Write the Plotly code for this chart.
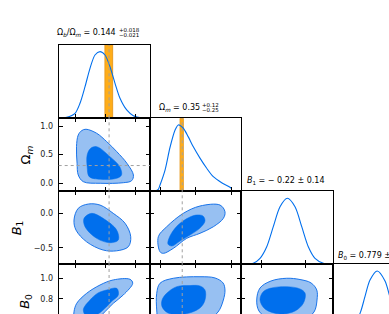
import plotly.graph_objects as go

W, H = 389, 314
PAGE_OFFSET = 0  # body margin is removed by the post script below

# ---------------- data ----------------
param_names = ["Ω<sub><i>b</i></sub>/Ω<sub><i>m</i></sub>", "Ω<sub><i>m</i></sub>",
               "<i>B</i><sub>1</sub>", "<i>B</i><sub>0</sub>"]
full_ranges = [[0.071, 0.225], [-0.14, 1.135], [-0.74, 0.32], [0.43, 1.135]]
tick_vals = [[0.10, 0.15, 0.20], [0.0, 0.5, 1.0], [-0.5, 0.0], [0.6, 0.8, 1.0]]
tick_text = [["0.10", "0.15", "0.20"], ["0.0", "0.5", "1.0"], ["−0.5", "0.0"], ["0.6", "0.8", "1.0"]]
truth_values = [0.156, 0.31, None, None]
prior_bands = [[0.149, 0.162], [0.28, 0.325], None, None]

title_main = ["Ω<sub><i>b</i></sub>/Ω<sub><i>m</i></sub> = 0.144", "Ω<sub><i>m</i></sub> = 0.35",
              "<i>B</i><sub>1</sub> = − 0.22 ± 0.14", "<i>B</i><sub>0</sub> = 0.779 ± 0.095"]
title_upper = ["+0.018", "+0.12", None, None]
title_lower = ["−0.021", "−0.25", None, None]

# 1D marginals (normalised to peak = 1)
marg_obm_x = [0.071, 0.0845, 0.0985, 0.1069, 0.1154, 0.1238, 0.1322, 0.1407, 0.1491, 0.1575, 0.166, 0.1744, 0.1857, 0.1969, 0.2137, 0.225]
marg_obm_y = [0.0, 0.015, 0.075, 0.225, 0.474, 0.75, 0.95, 1.0, 0.95, 0.774, 0.525, 0.30, 0.125, 0.039, 0.005, 0.0]
marg_om_x = [-0.07, -0.024, 0.0, 0.07, 0.139, 0.209, 0.255, 0.325, 0.395, 0.465, 0.558, 0.652, 0.744, 0.861, 0.977, 1.0]
marg_om_y = [0.005, 0.03, 0.095, 0.32, 0.66, 0.92, 1.0, 0.95, 0.82, 0.67, 0.5, 0.347, 0.22, 0.13, 0.06, 0.04]
marg_b1_x = [-0.74, -0.68, -0.601, -0.523, -0.445, -0.369, -0.291, -0.206, -0.117, -0.039, 0.037, 0.115, 0.211, 0.27, 0.32]
marg_b1_y = [0.0, 0.002, 0.015, 0.09, 0.265, 0.567, 0.868, 0.995, 0.868, 0.567, 0.265, 0.09, 0.015, 0.002, 0.0]
marg_b0_x = [0.43, 0.55, 0.60, 0.646, 0.679, 0.718, 0.774, 0.834, 0.87, 0.92, 0.97, 1.02, 1.135]
marg_b0_y = [0.0, 0.05, 0.18, 0.386, 0.612, 0.863, 1.0, 0.85, 0.62, 0.30, 0.11, 0.03, 0.0]

# 2D credible contours (outer = 95%, inner = 68%)
obm_om_outer_x = [0.117, 0.135, 0.152, 0.169, 0.186, 0.197, 0.194, 0.180, 0.141, 0.1125, 0.104, 0.102, 0.101, 0.104, 0.1098]
obm_om_outer_y = [0.944, 0.874, 0.727, 0.552, 0.350, 0.145, 0.045, 0.010, 0.000, 0.028, 0.145, 0.350, 0.640, 0.844, 0.920]
obm_om_inner_x = [0.135, 0.1575, 0.174, 0.177, 0.169, 0.141, 0.1226, 0.119, 0.119, 0.125]
obm_om_inner_y = [0.640, 0.465, 0.290, 0.145, 0.087, 0.070, 0.115, 0.290, 0.495, 0.612]

obm_b1_outer_x = [0.121, 0.1407, 0.163, 0.183, 0.1925, 0.1884, 0.1688, 0.146, 0.118, 0.1002, 0.0968, 0.104]
obm_b1_outer_y = [0.135, 0.120, 0.000, -0.145, -0.340, -0.485, -0.544, -0.533, -0.413, -0.243, -0.097, 0.073]
obm_b1_inner_x = [0.1267, 0.146, 0.1688, 0.1715, 0.1575, 0.135, 0.1154, 0.1137]
obm_b1_inner_y = [0.000, -0.073, -0.243, -0.388, -0.427, -0.363, -0.195, -0.073]

om_b1_outer_x = [0.000, -0.024, 0.093, 0.325, 0.558, 0.838, 0.907, 0.884, 0.744, 0.558, 0.373, 0.185, 0.046]
om_b1_outer_y = [-0.558, -0.340, -0.195, 0.000, 0.106, 0.120, 0.023, -0.073, -0.195, -0.290, -0.363, -0.509, -0.581]
om_b1_inner_x = [0.111, 0.139, 0.237, 0.363, 0.502, 0.600, 0.628, 0.558, 0.419, 0.279, 0.167]
om_b1_inner_y = [-0.446, -0.330, -0.185, -0.083, -0.025, -0.039, -0.112, -0.214, -0.315, -0.403, -0.475]

obm_b0_outer_x = [0.0968, 0.1014, 0.1182, 0.1407, 0.163, 0.1913, 0.1958, 0.180, 0.163, 0.149, 0.134, 0.1154, 0.102, 0.0968]
obm_b0_outer_y = [0.677, 0.758, 0.855, 0.935, 0.984, 0.990, 0.952, 0.839, 0.758, 0.677, 0.597, 0.539, 0.549, 0.616]
obm_b0_inner_x = [0.1689, 0.1716, 0.161, 0.152, 0.1373, 0.1204, 0.1125, 0.1238, 0.1373, 0.152]
obm_b0_inner_y = [0.903, 0.839, 0.780, 0.726, 0.655, 0.616, 0.694, 0.790, 0.858, 0.887]

om_b0_outer_x = [-0.046, -0.046, 0.000, 0.185, 0.558, 0.768, 0.880, 0.907, 0.884, 0.810, 0.628, 0.349, 0.070, -0.028]
om_b0_outer_y = [0.694, 0.855, 0.952, 1.000, 1.015, 1.003, 0.955, 0.887, 0.790, 0.674, 0.578, 0.520, 0.549, 0.616]
om_b0_inner_x = [0.093, 0.233, 0.419, 0.558, 0.628, 0.628, 0.558, 0.349, 0.111, 0.028, 0.028]
om_b0_inner_y = [0.855, 0.919, 0.930, 0.926, 0.887, 0.790, 0.713, 0.655, 0.665, 0.726, 0.790]

b1_b0_outer_x = [-0.213, -0.059, 0.069, 0.135, 0.138, 0.103, -0.036, -0.210, -0.407, -0.535, -0.561, -0.523, -0.395]
b1_b0_outer_y = [1.000, 0.988, 0.955, 0.887, 0.790, 0.674, 0.587, 0.558, 0.597, 0.684, 0.790, 0.906, 0.974]
b1_b0_inner_x = [-0.407, -0.213, -0.059, 0.000, -0.021, -0.117, -0.291, -0.465, -0.523, -0.488]
b1_b0_inner_y = [0.903, 0.919, 0.897, 0.855, 0.758, 0.684, 0.655, 0.703, 0.790, 0.868]

marginals = {0: (marg_obm_x, marg_obm_y), 1: (marg_om_x, marg_om_y),
             2: (marg_b1_x, marg_b1_y), 3: (marg_b0_x, marg_b0_y)}
contours = {
    (1, 0): (obm_om_outer_x, obm_om_outer_y, obm_om_inner_x, obm_om_inner_y),
    (2, 0): (obm_b1_outer_x, obm_b1_outer_y, obm_b1_inner_x, obm_b1_inner_y),
    (2, 1): (om_b1_outer_x, om_b1_outer_y, om_b1_inner_x, om_b1_inner_y),
    (3, 0): (obm_b0_outer_x, obm_b0_outer_y, obm_b0_inner_x, obm_b0_inner_y),
    (3, 1): (om_b0_outer_x, om_b0_outer_y, om_b0_inner_x, om_b0_inner_y),
    (3, 2): (b1_b0_outer_x, b1_b0_outer_y, b1_b0_inner_x, b1_b0_inner_y),
}

# ---------------- layout geometry (window pixels) ----------------
col_px = [58.7, 150.0, 241.3, 332.7, 424.0]
row_px = [45.0, 118.3, 191.3, 264.3, 337.3]
DIAG_TOP = 1.1

MAIN = "#006FED"
LIGHT = "#97C0F2"
EDGE = "#1A74EA"
FONT = "DejaVu Sans"


def fx(px):
    return (px - PAGE_OFFSET) / W


def fy(py):
    return 1 - (py - PAGE_OFFSET) / H


def col_geom(c, rng):
    x0, x1 = col_px[c] - PAGE_OFFSET, col_px[c + 1] - PAGE_OFFSET
    vis = min(x1, W)
    frac = (vis - x0) / (x1 - x0)
    return [x0 / W, vis / W], [rng[0], rng[0] + frac * (rng[1] - rng[0])]


def row_geom(r, rng):
    t, b = row_px[r] - PAGE_OFFSET, row_px[r + 1] - PAGE_OFFSET
    vis = min(b, H)
    frac = (vis - t) / (b - t)
    return [1 - vis / H, 1 - t / H], [rng[1] - frac * (rng[1] - rng[0]), rng[1]]


fig = go.Figure()
layout = dict(width=W, height=H, margin=dict(l=0, r=0, t=0, b=0),
              paper_bgcolor="white", plot_bgcolor="rgba(0,0,0,0)", showlegend=False)
shapes = []
annotations = []

k = 0
for r in range(4):
    for c in range(r + 1):
        k += 1
        xs = "" if k == 1 else str(k)
        xname, yname = "x" + xs, "y" + xs
        diag = (r == c)
        xdom, xr = col_geom(c, full_ranges[c])
        if diag:
            ydom, yr = row_geom(r, [0.0, DIAG_TOP])
        else:
            ydom, yr = row_geom(r, full_ranges[r])
        bottom_visible = row_px[r + 1] - PAGE_OFFSET <= H
        right_visible = col_px[c + 1] - PAGE_OFFSET <= W

        xa = dict(domain=xdom, range=xr, anchor=yname, tickvals=tick_vals[c],
                  showticklabels=False, showgrid=False, zeroline=False,
                  showline=True, linecolor="black", linewidth=1,
                  ticklen=4, tickwidth=1, tickcolor="black")
        if bottom_visible:
            xa.update(side="bottom", ticks="inside", mirror=(True if diag else "ticks"))
        else:
            xa.update(side="top", ticks=("" if diag else "inside"), mirror=False)

        ya = dict(domain=ydom, range=yr, anchor=xname, showgrid=False, zeroline=False,
                  showline=True, linecolor="black", linewidth=1,
                  ticklen=4, tickwidth=1, tickcolor="black")
        if diag:
            ya.update(ticks="", showticklabels=False, mirror=right_visible)
        else:
            ya.update(ticks="inside", tickvals=tick_vals[r], ticktext=tick_text[r],
                      showticklabels=(c == 0), mirror="ticks",
                      tickfont=dict(family=FONT, size=8, color="#222"),
                      ticklabelstandoff=3)
        layout["xaxis" + xs] = xa
        layout["yaxis" + xs] = ya

        if diag:
            mx, my = marginals[c]
            fig.add_trace(go.Scatter(x=mx, y=my, mode="lines", xaxis=xname, yaxis=yname,
                                     line=dict(color=MAIN, width=1.1, shape="spline", smoothing=0.8),
                                     hoverinfo="skip"))
            if prior_bands[c] is not None:
                shapes.append(dict(type="rect", xref=xname, yref=yname + " domain",
                                   x0=prior_bands[c][0], x1=prior_bands[c][1], y0=0, y1=1,
                                   fillcolor="#FFA500", opacity=0.9,
                                   line=dict(color="#E8920A", width=1), layer="below"))
        else:
            ox, oy, ix, iy = contours[(r, c)]
            fig.add_trace(go.Scatter(x=ox + ox[:1], y=oy + oy[:1], mode="lines", fill="toself",
                                     fillcolor=LIGHT, xaxis=xname, yaxis=yname,
                                     line=dict(color=EDGE, width=1, shape="spline", smoothing=1.0),
                                     hoverinfo="skip"))
            fig.add_trace(go.Scatter(x=ix + ix[:1], y=iy + iy[:1], mode="lines", fill="toself",
                                     fillcolor=MAIN, xaxis=xname, yaxis=yname,
                                     line=dict(color=MAIN, width=0.5, shape="spline", smoothing=1.0),
                                     hoverinfo="skip"))
            if truth_values[r] is not None:
                shapes.append(dict(type="line", xref=xname + " domain", yref=yname,
                                   x0=0, x1=1, y0=truth_values[r], y1=truth_values[r],
                                   line=dict(color="#A0A0A0", width=1, dash="dot"), layer="above"))
        if truth_values[c] is not None:
            shapes.append(dict(type="line", xref=xname, yref=yname + " domain",
                               x0=truth_values[c], x1=truth_values[c], y0=0, y1=1,
                               line=dict(color="#A0A0A0", width=1, dash="dot"), layer="above"))

# titles over the diagonal panels (window pixel positions)
title_pos = [(118.3, 32.8), (201.7, 107.8), (286.3, 181.0), (335.7, 255.7)]
for i in range(4):
    px, py = title_pos[i]
    if title_upper[i] is not None:
        annotations.append(dict(text=title_main[i], x=fx(px), y=fy(py), xref="paper", yref="paper",
                                xanchor="right", yanchor="middle", showarrow=False,
                                font=dict(family=FONT, size=8, color="black")))
        annotations.append(dict(text=title_upper[i], x=fx(px - 1.5), y=fy(py - 2.6),
                                xref="paper", yref="paper", xanchor="left", yanchor="middle",
                                showarrow=False, font=dict(family=FONT, size=5.5, color="black")))
        annotations.append(dict(text=title_lower[i], x=fx(px - 1.5), y=fy(py + 2.2),
                                xref="paper", yref="paper", xanchor="left", yanchor="middle",
                                showarrow=False, font=dict(family=FONT, size=5.5, color="black")))
    else:
        annotations.append(dict(text=title_main[i], x=fx(px), y=fy(py), xref="paper", yref="paper",
                                xanchor=("center" if i < 3 else "left"), yanchor="middle",
                                showarrow=False, font=dict(family=FONT, size=8, color="black")))

# y-axis labels for the left column
ylabel_x = [None, 26.7, 17.5, 26.0]
for r in range(1, 4):
    cy = (row_px[r] + row_px[r + 1]) / 2
    annotations.append(dict(text=param_names[r], x=fx(ylabel_x[r]), y=fy(cy),
                            xref="paper", yref="paper", xanchor="center", yanchor="middle",
                            textangle=-90, showarrow=False,
                            font=dict(family=FONT, size=13, color="black")))

layout["shapes"] = shapes
layout["annotations"] = annotations
fig.update_layout(**layout)
fig.write_html("out.html",
               config={"displayModeBar": False, "staticPlot": True},
               post_script="document.body.style.margin='0';"
                           "document.body.style.overflow='hidden';")
